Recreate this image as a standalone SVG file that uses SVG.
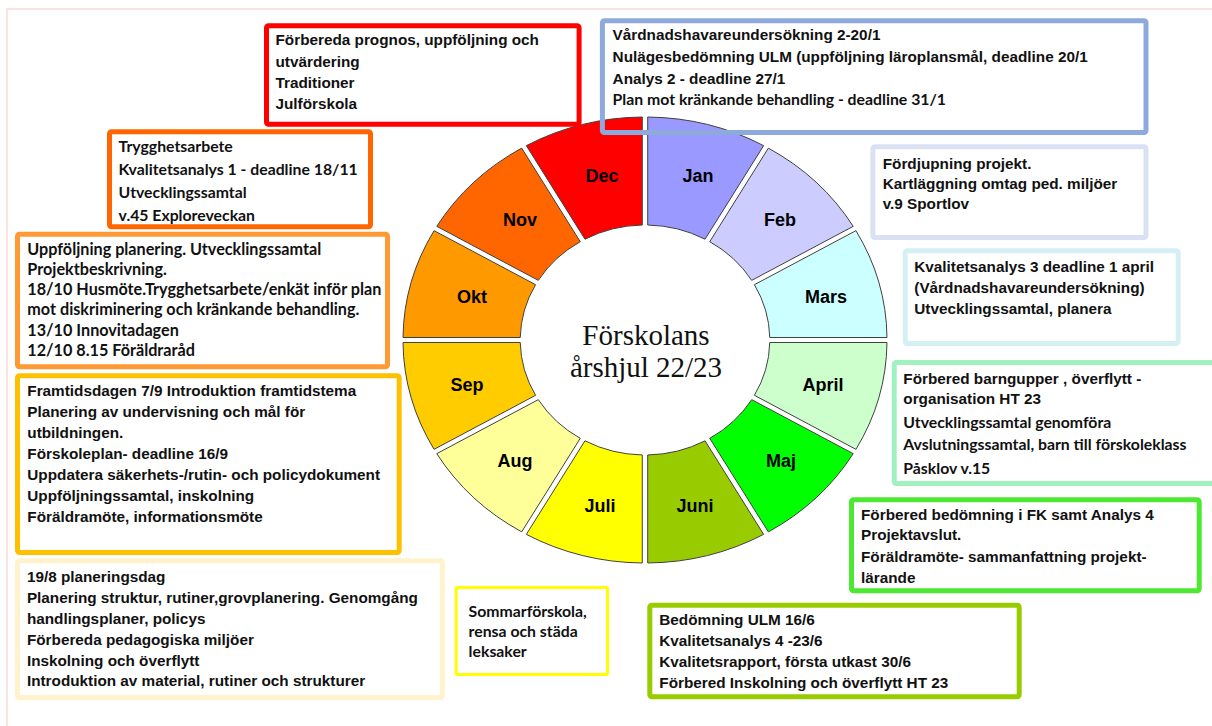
<svg xmlns="http://www.w3.org/2000/svg" xmlns:xlink="http://www.w3.org/1999/xlink" width="1212" height="726" viewBox="0 0 1212 726">
<style>
.seg{stroke:#404040;stroke-width:1;vector-effect:non-scaling-stroke}
.mon{font-family:"Liberation Sans",Arial,sans-serif;font-weight:bold;font-size:18px;fill:#000;text-anchor:middle}
.ctr{font-family:"Liberation Serif","Times New Roman",serif;font-size:29px;fill:#111;text-anchor:middle}
.box{fill:none;stroke-width:5}
.a{font-family:"Liberation Sans",Arial,sans-serif;font-weight:bold;font-size:15.3px;fill:#111}
.c{font-family:Lato,"Open Sans",sans-serif;font-weight:bold;font-size:15.8px;fill:#111}
</style>
<defs>
<path id="seg" class="seg" d="M2.5,-222.99 A223,223 0 0 1 109.34,-194.37 L55.32,-100.82 A115,115 0 0 0 2.5,-114.97 Z"/>
</defs>
<rect width="1212" height="726" fill="#fff"/>
<rect x="7" y="9" width="1225" height="740" fill="none" stroke="#FBE3E3" stroke-width="2"/>

<g id="wheel">
<g id="m-jan"><use xlink:href="#seg" transform="translate(645,340) scale(1.0852,1) rotate(0)" fill="#9999FF"/><text class="mon" x="698" y="182">Jan</text></g>
<g id="m-feb"><use xlink:href="#seg" transform="translate(645,340) scale(1.0852,1) rotate(30)" fill="#CCCCFF"/><text class="mon" x="780" y="226">Feb</text></g>
<g id="m-mars"><use xlink:href="#seg" transform="translate(645,340) scale(1.0852,1) rotate(60)" fill="#CCFFFF"/><text class="mon" x="826" y="302.7">Mars</text></g>
<g id="m-april"><use xlink:href="#seg" transform="translate(645,340) scale(1.0852,1) rotate(90)" fill="#CCFFCC"/><text class="mon" x="823" y="390.7">April</text></g>
<g id="m-maj"><use xlink:href="#seg" transform="translate(645,340) scale(1.0852,1) rotate(120)" fill="#00FF00"/><text class="mon" x="781" y="466.7">Maj</text></g>
<g id="m-juni"><use xlink:href="#seg" transform="translate(645,340) scale(1.0852,1) rotate(150)" fill="#99CC00"/><text class="mon" x="695" y="511.7">Juni</text></g>
<g id="m-juli"><use xlink:href="#seg" transform="translate(645,340) scale(1.0852,1) rotate(180)" fill="#FFFF00"/><text class="mon" x="600" y="511.7">Juli</text></g>
<g id="m-aug"><use xlink:href="#seg" transform="translate(645,340) scale(1.0852,1) rotate(210)" fill="#FFFF99"/><text class="mon" x="515" y="466.7">Aug</text></g>
<g id="m-sep"><use xlink:href="#seg" transform="translate(645,340) scale(1.0852,1) rotate(240)" fill="#FFCC00"/><text class="mon" x="467" y="390.7">Sep</text></g>
<g id="m-okt"><use xlink:href="#seg" transform="translate(645,340) scale(1.0852,1) rotate(270)" fill="#FF9900"/><text class="mon" x="472" y="302.7">Okt</text></g>
<g id="m-nov"><use xlink:href="#seg" transform="translate(645,340) scale(1.0852,1) rotate(300)" fill="#FF6600"/><text class="mon" x="520" y="226">Nov</text></g>
<g id="m-dec"><use xlink:href="#seg" transform="translate(645,340) scale(1.0852,1) rotate(330)" fill="#FF0000"/><text class="mon" x="602" y="182">Dec</text></g>
<g id="center"><text class="ctr" x="646" y="344.5">Förskolans</text><text class="ctr" x="646" y="376.5">årshjul 22/23</text></g>
</g>

<g id="connectors"/>

<g id="box-dec">
<rect class="box" x="266.5" y="25.8" width="312.6" height="98.4" rx="2" stroke="#FF0000"/>
<text class="a" x="275.5" y="45.3">Förbereda prognos, uppföljning och</text>
<text class="a" x="275.5" y="67">utvärdering</text>
<text class="a" x="275.5" y="88">Traditioner</text>
<text class="a" x="275.5" y="108.6">Julförskola</text>
</g>

<g id="box-nov">
<rect class="box" x="109.5" y="131.8" width="261" height="95" rx="2" stroke="#FF6600"/>
<text class="c" x="118.6" y="152">Trygghetsarbete</text>
<text class="c" x="118.6" y="174.6">Kvalitetsanalys 1 - deadline 18/11</text>
<text class="c" x="118.6" y="198">Utvecklingssamtal</text>
<text class="c" x="118.6" y="221.3">v.45 Exploreveckan</text>
</g>

<g id="box-okt">
<rect class="box" x="17.5" y="234.2" width="370" height="132.6" rx="2" stroke="#FF9933"/>
<text class="c" x="27.3" y="254.6" style="font-size:16.2px">Uppföljning planering. Utvecklingssamtal</text>
<text class="c" x="27.3" y="274.6" style="font-size:16.2px">Projektbeskrivning.</text>
<text class="c" x="27.3" y="295.3" style="font-size:16.2px">18/10 Husmöte.Trygghetsarbete/enkät inför plan</text>
<text class="c" x="27.3" y="315.3" style="font-size:16.2px">mot diskriminering och kränkande behandling.</text>
<text class="c" x="27.3" y="336" style="font-size:16.2px">13/10 Innovitadagen</text>
<text class="c" x="27.3" y="356.3" style="font-size:16.2px">12/10 8.15 Föräldraråd</text>
</g>

<g id="box-sep">
<rect class="box" x="17.5" y="375.8" width="381.7" height="176.7" rx="2" stroke="#FFC000"/>
<text class="a" x="27.3" y="396">Framtidsdagen 7/9 Introduktion framtidstema</text>
<text class="a" x="27.3" y="417">Planering av undervisning och mål för</text>
<text class="a" x="27.3" y="438">utbildningen.</text>
<text class="a" x="27.3" y="458.6">Förskoleplan- deadline 16/9</text>
<text class="a" x="27.3" y="480.3">Uppdatera säkerhets-/rutin- och policydokument</text>
<text class="a" x="27.3" y="501.3">Uppföljningssamtal, inskolning</text>
<text class="a" x="27.3" y="522">Föräldramöte, informationsmöte</text>
</g>

<g id="box-aug">
<rect class="box" x="17.5" y="560.8" width="424.8" height="136.7" rx="2" stroke="#FFF2CC"/>
<text class="a" x="26.9" y="582">19/8 planeringsdag</text>
<text class="a" x="26.9" y="602.6">Planering struktur, rutiner,grovplanering. Genomgång</text>
<text class="a" x="26.9" y="623.6">handlingsplaner, policys</text>
<text class="a" x="26.9" y="644.6">Förbereda pedagogiska miljöer</text>
<text class="a" x="26.9" y="666">Inskolning och överflytt</text>
<text class="a" x="26.9" y="686.3">Introduktion av material, rutiner och strukturer</text>
</g>

<g id="box-juli">
<rect class="box" x="456.2" y="587.5" width="151.3" height="87" rx="1" stroke="#FFFF00" style="stroke-width:3"/>
<text class="c" x="468.6" y="617">Sommarförskola,</text>
<text class="c" x="468.6" y="637">rensa och städa</text>
<text class="c" x="468.6" y="657">leksaker</text>
</g>

<g id="box-juni">
<rect class="box" x="649.8" y="605.2" width="369.4" height="91.6" rx="2" stroke="#99CC00"/>
<text class="a" x="659.3" y="625.3">Bedömning ULM 16/6</text>
<text class="a" x="659.3" y="646.3">Kvalitetsanalys 4 -23/6</text>
<text class="a" x="659.3" y="667">Kvalitetsrapport, första utkast 30/6</text>
<text class="a" x="659.3" y="688">Förbered Inskolning och överflytt HT 23</text>
</g>

<g id="box-maj">
<rect class="box" x="851.5" y="499.8" width="347.7" height="91" rx="2" stroke="#4CE832"/>
<text class="a" x="861" y="520.3">Förbered bedömning i FK samt Analys 4</text>
<text class="a" x="861" y="540.3">Projektavslut.</text>
<text class="a" x="861" y="562">Föräldramöte- sammanfattning projekt-</text>
<text class="a" x="861" y="582.6">lärande</text>
</g>

<g id="box-april">
<rect class="box" x="894.2" y="362.5" width="330" height="121" rx="2" stroke="#A0F0C0"/>
<text class="a" x="903.3" y="383.6">Förbered barngupper , överflytt -</text>
<text class="a" x="903.3" y="403.6">organisation HT 23</text>
<text class="c" x="903.3" y="427.6">Utvecklingssamtal genomföra</text>
<text class="c" x="903.3" y="450.3">Avslutningssamtal, barn till förskoleklass</text>
<text class="c" x="903.3" y="473.6">Påsklov v.15</text>
</g>

<g id="box-mars">
<rect class="box" x="905.2" y="250.8" width="273" height="92.7" rx="2" stroke="#D5F0F5"/>
<text class="a" x="914.3" y="272">Kvalitetsanalys 3 deadline 1 april</text>
<text class="a" x="914.3" y="292.6">(Vårdnadshavareundersökning)</text>
<text class="a" x="914.3" y="314.3">Utvecklingssamtal, planera</text>
</g>

<g id="box-feb">
<rect class="box" x="872.9" y="146.8" width="273.1" height="90.7" rx="2" stroke="#D9E1F2"/>
<text class="a" x="882.7" y="168.6">Fördjupning projekt.</text>
<text class="a" x="882.7" y="188.6">Kartläggning  omtag ped. miljöer</text>
<text class="a" x="882.7" y="209.3">v.9 Sportlov</text>
</g>

<g id="box-jan">
<rect class="box" x="602.4" y="20.8" width="543.6" height="111.7" rx="2" stroke="#8EA9DB"/>
<text class="a" x="612.6" y="40.3">Vårdnadshavareundersökning 2-20/1</text>
<text class="a" x="612.6" y="62">Nulägesbedömning ULM (uppföljning läroplansmål, deadline 20/1</text>
<text class="a" x="612.6" y="83.6">Analys 2 - deadline 27/1</text>
<text class="c" x="612.6" y="104.6">Plan mot kränkande behandling - deadline 31/1</text>
</g>
</svg>
